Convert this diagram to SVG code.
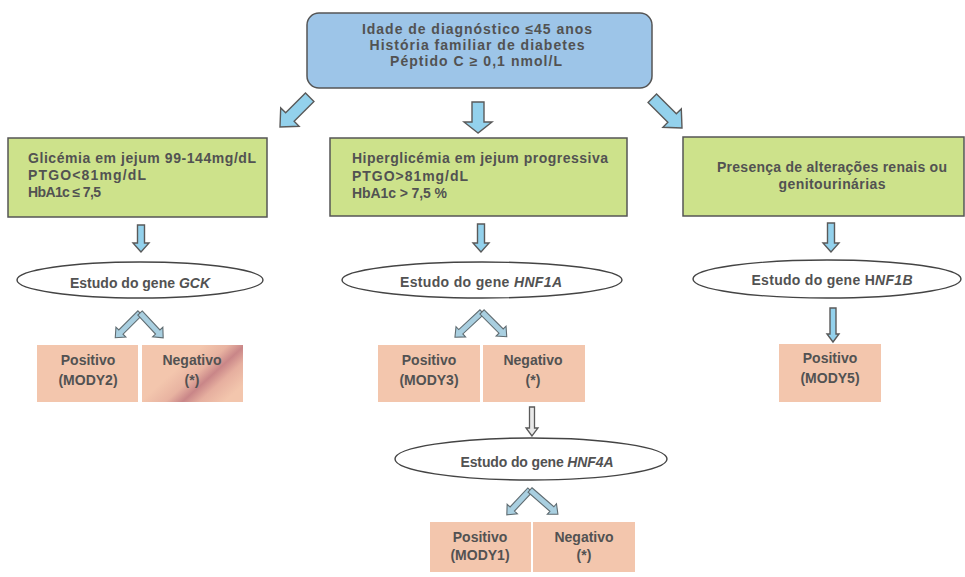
<svg xmlns="http://www.w3.org/2000/svg" width="965" height="577" viewBox="0 0 965 577">
<defs>
<style>
text{font-family:"Liberation Sans",Arial,sans-serif;font-weight:bold;fill:#525252;font-size:14px}
.c{text-anchor:middle}
.blue{fill:#9dc5e8;stroke:#555;stroke-width:1.5}
.green{fill:#cde28b;stroke:#555;stroke-width:1.5}
.pink{fill:#f3c6ad}
.ell{fill:#fff;stroke:#444;stroke-width:1.4}
.arw{fill:#93d1ec;stroke:#5a5a5a;stroke-width:1.4;stroke-linejoin:miter}
.garw{fill:#e9e9e9;stroke:#5a5a5a;stroke-width:1.3}
.chev{fill:#a9cfe0;stroke:#5f6b70;stroke-width:1.1}
</style>
<linearGradient id="streak" gradientUnits="userSpaceOnUse" x1="193" y1="354" x2="231" y2="396">
<stop offset="0" stop-color="#f3c6ad"/>
<stop offset="0.3" stop-color="#e8b3a1"/>
<stop offset="0.5" stop-color="#c98688"/>
<stop offset="0.7" stop-color="#e6af9f"/>
<stop offset="1" stop-color="#f3c6ad"/>
</linearGradient>
</defs>
<rect width="965" height="577" fill="#fff"/>

<g id="connectors">
<polygon class="arw" transform="translate(280,127) rotate(45)" points="0,0 -13,-14 -6,-14 -6,-42 6,-42 6,-14 13,-14"/>
<polygon class="arw" transform="translate(478,133)" points="0,0 -14,-11 -6,-11 -6,-31 6,-31 6,-11 14,-11"/>
<polygon class="arw" transform="translate(682,128) rotate(-45)" points="0,0 -13,-14 -6,-14 -6,-42 6,-42 6,-14 13,-14"/>
<polygon class="arw" transform="translate(141,252)" points="0,0 -8,-9 -3.5,-9 -3.5,-27 3.5,-27 3.5,-9 8,-9"/>
<polygon class="arw" transform="translate(481,252)" points="0,0 -8,-9 -3.5,-9 -3.5,-28 3.5,-28 3.5,-9 8,-9"/>
<polygon class="arw" transform="translate(831,252)" points="0,0 -8,-9 -3.5,-9 -3.5,-29 3.5,-29 3.5,-9 8,-9"/>
<polygon class="arw" transform="translate(833,342)" points="0,0 -6,-8 -3,-8 -3,-34 3,-34 3,-8 6,-8"/>
<polygon class="garw" transform="translate(532,436)" points="0,0 -6,-8 -2.5,-8 -2.5,-29 2.5,-29 2.5,-8 6,-8"/>
<polygon class="chev" transform="translate(140,313) rotate(135)" points="0,-3 27,-3 27,-7 35,0 27,7 27,3 0,3"/>
<polygon class="chev" transform="translate(140,313) rotate(47)" points="0,-3 26,-3 26,-7 34,0 26,7 26,3 0,3"/>
<polygon class="chev" transform="translate(482,312) rotate(137)" points="0,-3 29,-3 29,-7 37,0 29,7 29,3 0,3"/>
<polygon class="chev" transform="translate(482,312) rotate(45)" points="0,-3 27,-3 27,-7 35,0 27,7 27,3 0,3"/>
<polygon class="chev" transform="translate(530,490) rotate(133)" points="0,-3 26,-3 26,-7 34,0 26,7 26,3 0,3"/>
<polygon class="chev" transform="translate(530,490) rotate(41)" points="0,-3 29,-3 29,-7 37,0 29,7 29,3 0,3"/>
</g>

<g id="top">
<rect class="blue" x="307" y="13" width="345" height="75" rx="12"/>
<text class="c" x="477" y="34" textLength="230">Idade de diagnóstico ≤45 anos</text>
<text class="c" x="477" y="50" textLength="215">História familiar de diabetes</text>
<text class="c" x="476" y="66" textLength="172">Péptido C ≥ 0,1 nmol/L</text>
</g>

<g id="crit-gck">
<rect class="green" x="8" y="138" width="259" height="79"/>
<text x="28" y="163" textLength="228">Glicémia em jejum 99-144mg/dL</text>
<text x="28" y="180" textLength="118">PTGO&lt;81mg/dL</text>
<text x="28" y="197" textLength="73">HbA1c ≤ 7,5</text>
</g>

<g id="crit-hnf1a">
<rect class="green" x="330" y="138" width="297" height="78"/>
<text x="352" y="163" textLength="256">Hiperglicémia em jejum progressiva</text>
<text x="352" y="181" textLength="116">PTGO&gt;81mg/dL</text>
<text x="352" y="198" textLength="95">HbA1c &gt; 7,5 %</text>
</g>

<g id="crit-hnf1b">
<rect class="green" x="683" y="137" width="281" height="79"/>
<text class="c" x="832" y="172" textLength="230">Presença de alterações renais ou</text>
<text class="c" x="832" y="189" textLength="107">genitourinárias</text>
</g>

<g id="gene-gck">
<ellipse class="ell" cx="140" cy="280" rx="123" ry="18"/>
<text class="c" x="140" y="288" textLength="140">Estudo do gene <tspan font-style="italic">GCK</tspan></text>
</g>

<g id="gene-hnf1a">
<ellipse class="ell" cx="482" cy="280" rx="140" ry="18"/>
<text class="c" x="481" y="287" textLength="162">Estudo do gene <tspan font-style="italic">HNF1A</tspan></text>
</g>

<g id="gene-hnf1b">
<ellipse class="ell" cx="827" cy="279" rx="134" ry="19"/>
<text class="c" x="832" y="285" textLength="161">Estudo do gene H<tspan font-style="italic">NF1B</tspan></text>
</g>

<g id="gene-hnf4a">
<ellipse class="ell" cx="531" cy="459" rx="136" ry="21"/>
<text class="c" x="537" y="467" textLength="153">Estudo do gene <tspan font-style="italic">HNF4A</tspan></text>
</g>

<g id="pos-mody2">
<rect class="pink" x="37" y="345" width="101" height="57"/>
<text class="c" x="88" y="365">Positivo</text>
<text class="c" x="88" y="385">(MODY2)</text>
</g>
<g id="neg-gck">
<rect x="142" y="345" width="101" height="57" fill="url(#streak)"/>
<text class="c" x="192" y="365">Negativo</text>
<text class="c" x="192" y="385">(*)</text>
</g>

<g id="pos-mody3">
<rect class="pink" x="378" y="345" width="102" height="57"/>
<text class="c" x="429" y="365">Positivo</text>
<text class="c" x="429" y="385">(MODY3)</text>
</g>
<g id="neg-hnf1a">
<rect class="pink" x="483" y="345" width="102" height="57"/>
<text class="c" x="533" y="365">Negativo</text>
<text class="c" x="533" y="385">(*)</text>
</g>

<g id="pos-mody5">
<rect class="pink" x="779" y="344" width="102" height="58"/>
<text class="c" x="830" y="363">Positivo</text>
<text class="c" x="830" y="383">(MODY5)</text>
</g>

<g id="pos-mody1">
<rect class="pink" x="430" y="522" width="101" height="50"/>
<text class="c" x="480" y="542">Positivo</text>
<text class="c" x="480" y="560">(MODY1)</text>
</g>
<g id="neg-hnf4a">
<rect class="pink" x="533" y="522" width="102" height="50"/>
<text class="c" x="584" y="542">Negativo</text>
<text class="c" x="584" y="560">(*)</text>
</g>
</svg>
